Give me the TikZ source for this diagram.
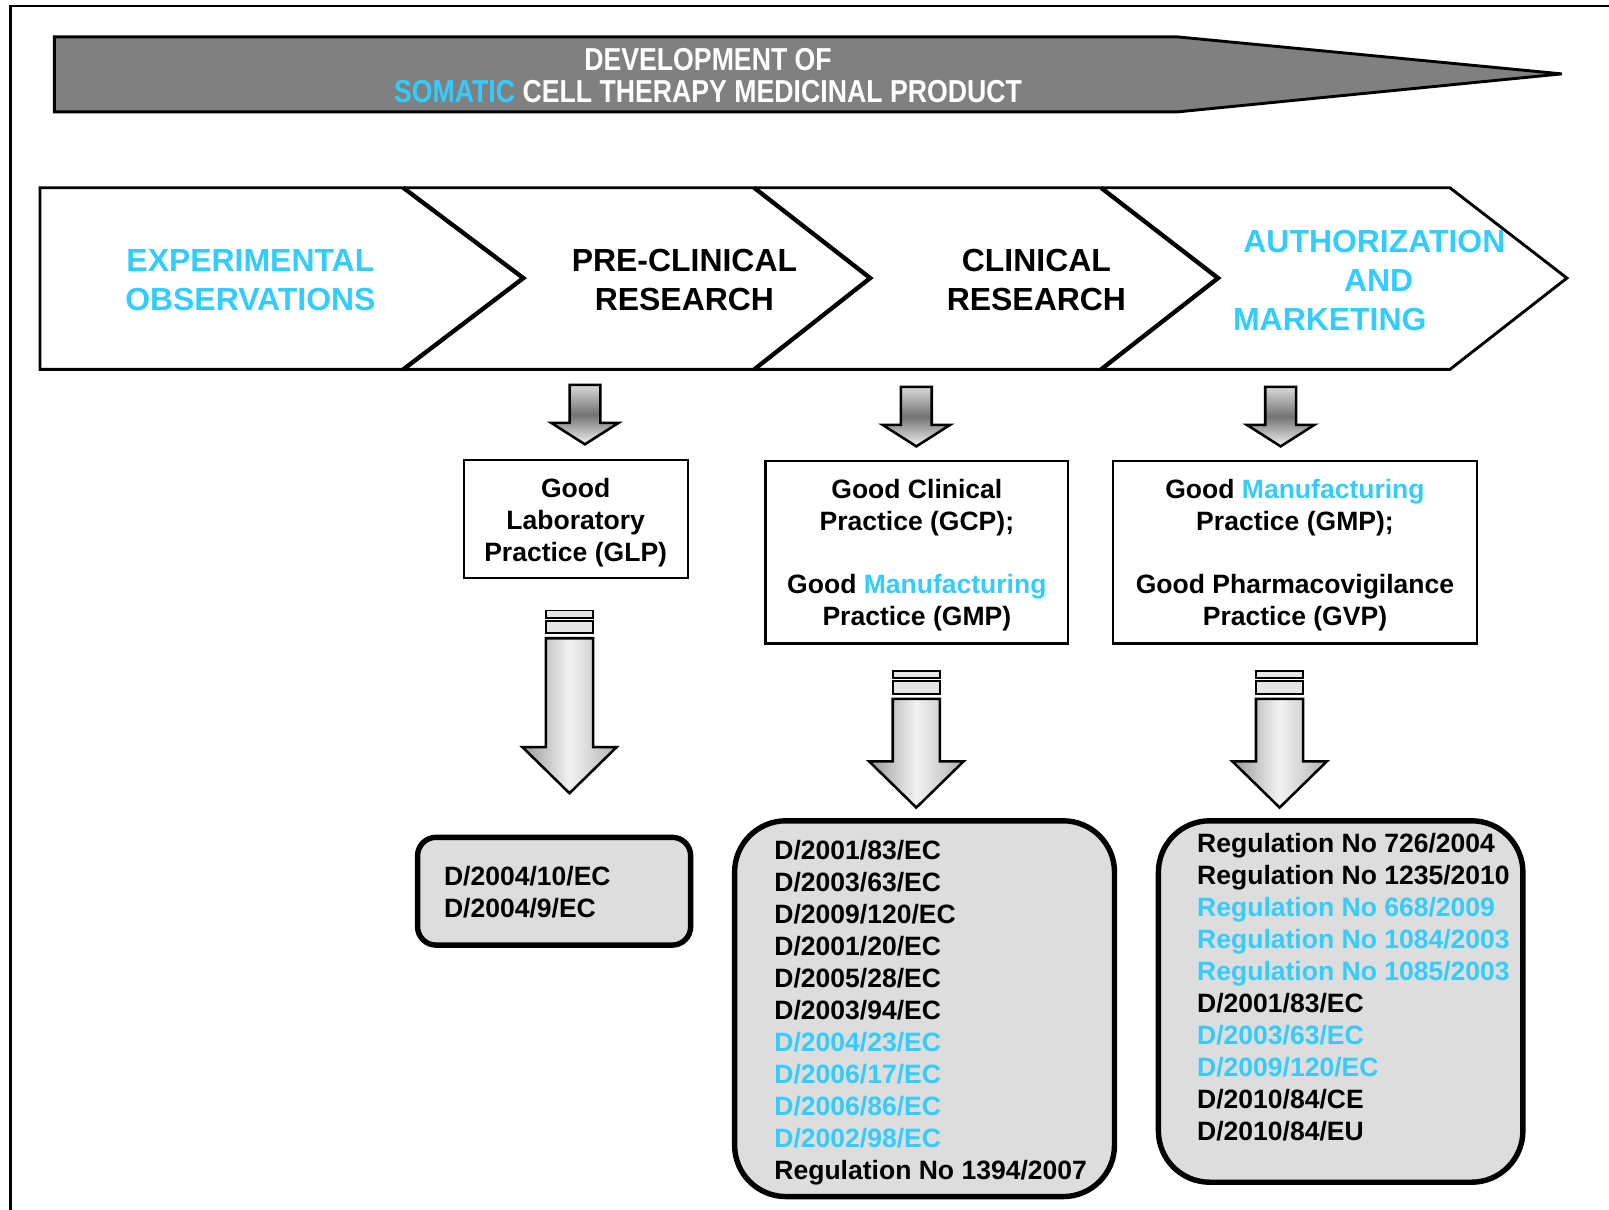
\documentclass[tikz,border=0pt]{standalone}
\usepackage{fontspec}
\setmainfont{Liberation Sans}
\newfontfamily\narrowsans{Liberation Sans}[FakeStretch=0.84]
\usepackage{xcolor}
\usetikzlibrary{positioning}

\definecolor{skyblue}{HTML}{33CCFF}
\definecolor{bannergray}{HTML}{808080}
\definecolor{lawgray}{HTML}{DDDDDD}

\begin{document}
\begin{tikzpicture}[
        x=0.01cm, y=-0.01cm,
        font=\bfseries,
        stage/.style={
            align=center,
            inner sep=0pt,
            font=\fontsize{8.85}{10.8}\selectfont\bfseries
        },
        practice/.style={
            draw=black,
            fill=white,
            line width=0.6pt,
            align=center,
            inner sep=0pt,
            font=\fontsize{7.35}{8.85}\selectfont\bfseries
        },
        lawbox/.style={
            draw=black,
            fill=lawgray,
            line width=1.5pt
        },
        lawlist/.style={
            align=left,
            inner sep=0pt,
            anchor=west,
            font=\fontsize{7.35}{8.88}\selectfont\bfseries
        },
        pics/smallarr/.style={code={
            \draw[line width=0.7pt, top color=black!15, bottom color=black!5, middle color=black!55]
                (-15,0) -- (15,0) -- (15,37) -- (33,37) -- (0,58) -- (-33,37) -- (-15,37) -- cycle;
        }},
        pics/bigarr/.style={code={
            \draw[line width=0.5pt, fill=black!10] (-23,0) rectangle (23,7);
            \draw[line width=0.5pt, fill=black!10] (-23,10) rectangle (23,22);
            \draw[line width=0.7pt, left color=black!40, right color=black!30, middle color=black!5]
                (-23,27) -- (-23,#1) -- (-46,#1) -- (0,#1+45) -- (46,#1) -- (23,#1) -- (23,27) -- cycle;
        }}
    ]

    \useasboundingbox (0,0) rectangle (1568,1179);
    \draw[line width=0.7pt] (10,1179) -- (10,6) -- (1568,6);

    % banner
    \draw[line width=0.8pt, fill=bannergray] (53,36) -- (1148,36) -- (1522,72) -- (1148,109) -- (53,109) -- cycle;
    \node[text=white, align=center, inner sep=0pt, font=\narrowsans\bfseries\fontsize{8.8}{8.9}\selectfont] (devtitle) at (690,74)
        {DEVELOPMENT OF\\\textcolor{skyblue}{SOMATIC} CELL THERAPY MEDICINAL PRODUCT};

    % stages
    \draw[line width=0.8pt, fill=white] (39,183) -- (1413,183) -- (1527,271) -- (1413,360) -- (39,360) -- cycle;
    \draw[line width=1.2pt] (393,183) -- (510,271) -- (393,360);
    \draw[line width=1.2pt] (735,183) -- (848,271) -- (735,360);
    \draw[line width=1.2pt] (1073,183) -- (1187,271) -- (1073,360);

    \node[stage, text=skyblue] (expobs) at (244,273) {EXPERIMENTAL\\OBSERVATIONS};
    \node[stage] (preclin) at (667,273) {PRE-CLINICAL\\RESEARCH};
    \node[stage] (clinres) at (1010,273) {CLINICAL\\RESEARCH};
    \node[stage, text=skyblue, align=left, anchor=west] (authmkt) at (1201,273)
        {\hspace*{0.1cm}AUTHORIZATION\\\hspace*{1.08cm}AND\\MARKETING};

    % practices
    \pic at (570,375) {smallarr};
    \pic at (893,377) {smallarr};
    \pic at (1248,377) {smallarr};

    \node[practice, minimum width=2.18cm, minimum height=1.15cm] (glp) at (561,505.5) {};
    \node[practice, draw=none, fill=none] (glptext) at (561,509)
        {Good\\Laboratory\\Practice (GLP)};
    \node[practice, minimum width=2.95cm, minimum height=1.78cm] (gcp) at (893.5,538) {};
    \node[practice, draw=none, fill=none] (gcptext) at (893.5,541)
        {Good Clinical\\Practice (GCP);\\[8.85pt]Good \textcolor{skyblue}{Manufacturing}\\Practice (GMP)};
    \node[practice, minimum width=3.54cm, minimum height=1.78cm] (gvp) at (1262,538) {};
    \node[practice, draw=none, fill=none] (gvptext) at (1262,541)
        {Good \textcolor{skyblue}{Manufacturing}\\Practice (GMP);\\[8.85pt]Good Pharmacovigilance\\Practice (GVP)};

    % legislation
    \pic at (555,595) {bigarr=133};
    \pic at (893,654) {bigarr=88};
    \pic at (1247,654) {bigarr=88};

    \node[lawbox, rounded corners=0.18cm, minimum width=2.66cm, minimum height=1.05cm] (lawsA) at (540,868.5) {};
    \node[lawbox, rounded corners=0.5cm, minimum width=3.70cm, minimum height=3.66cm] (lawsB) at (901,983) {};
    \node[lawbox, rounded corners=0.5cm, minimum width=3.55cm, minimum height=3.52cm] (lawsC) at (1306.5,976) {};

    \node[lawlist] (listA) at (432,869) {D/2004/10/EC\\D/2004/9/EC};
    \node[lawlist] (listB) at (754,987)
        {D/2001/83/EC\\D/2003/63/EC\\D/2009/120/EC\\D/2001/20/EC\\D/2005/28/EC\\D/2003/94/EC\\
         \textcolor{skyblue}{D/2004/23/EC}\\\textcolor{skyblue}{D/2006/17/EC}\\
         \textcolor{skyblue}{D/2006/86/EC}\\\textcolor{skyblue}{D/2002/98/EC}\\Regulation No 1394/2007};
    \node[lawlist] (listC) at (1166,962)
        {Regulation No 726/2004\\Regulation No 1235/2010\\\textcolor{skyblue}{Regulation No 668/2009}\\
         \textcolor{skyblue}{Regulation No 1084/2003}\\\textcolor{skyblue}{Regulation No 1085/2003}\\
         D/2001/83/EC\\\textcolor{skyblue}{D/2003/63/EC}\\\textcolor{skyblue}{D/2009/120/EC}\\
         D/2010/84/CE\\D/2010/84/EU};

\end{tikzpicture}
\end{document}
